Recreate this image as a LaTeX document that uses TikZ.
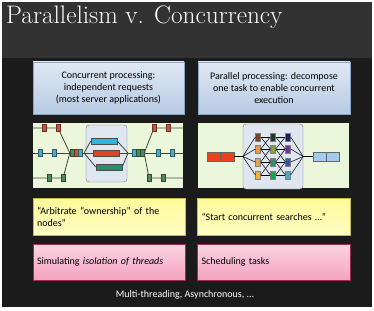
\documentclass[tikz,border=0pt]{standalone}
\usepackage{fontspec}
\setsansfont{Carlito}
\usetikzlibrary{positioning}

\definecolor{slidetop}{HTML}{323232}
\definecolor{slidebody}{HTML}{1B1B1B}
\definecolor{bluetop}{HTML}{DFE8F4}
\definecolor{bluebot}{HTML}{B7CBE4}
\definecolor{blueline}{HTML}{8DA6C8}
\definecolor{stripgreen}{HTML}{EBF6DB}
\definecolor{hubfill}{HTML}{DFE6F0}
\definecolor{yellowtop}{HTML}{FDF99A}
\definecolor{yellowbot}{HTML}{FFFDC2}
\definecolor{yellowline}{HTML}{C8B850}
\definecolor{pinktop}{HTML}{FAD3E0}
\definecolor{pinkbot}{HTML}{F5A3C0}
\definecolor{pinkline}{HTML}{9E2E50}
\definecolor{trackline}{HTML}{3E4A36}
\definecolor{jred}{HTML}{C9553F}
\definecolor{jblue}{HTML}{4BACC6}
\definecolor{jgreen}{HTML}{4F8A5F}
\definecolor{barcyan}{HTML}{2FB5E0}
\definecolor{barred}{HTML}{E0412A}
\definecolor{bargreen}{HTML}{2E8A6A}
\definecolor{cellred}{HTML}{E8431E}
\definecolor{cellblue}{HTML}{A3CBEC}
\definecolor{task11}{HTML}{7F4222}
\definecolor{task12}{HTML}{F29A3C}
\definecolor{task13}{HTML}{E3A652}
\definecolor{task14}{HTML}{F2B134}
\definecolor{task21}{HTML}{1F3A22}
\definecolor{task22}{HTML}{84A23C}
\definecolor{task23}{HTML}{3A8A72}
\definecolor{task24}{HTML}{12A94E}
\definecolor{task31}{HTML}{1F1F66}
\definecolor{task32}{HTML}{7030A0}
\definecolor{task33}{HTML}{3354A8}
\definecolor{task34}{HTML}{45AAC4}

\begin{document}
\begin{tikzpicture}[x=1pt, y=-1pt,
    txt/.style={font=\sffamily\fontsize{10}{12}\selectfont},
    bluebox/.style={txt, draw=blueline, top color=bluetop, bottom color=bluebot, minimum width=151pt, minimum height=52pt, align=center, inner sep=0pt},
    greenbox/.style={fill=stripgreen, minimum width=150pt, minimum height=65pt, inner sep=0pt},
    hub/.style={draw=black!55, fill=hubfill, rounded corners=3pt, inner sep=0pt},
    notebox/.style={txt, text width=144pt, inner xsep=4pt, inner ysep=0pt, align=left},
    yellowbox/.style={notebox, draw=yellowline, top color=yellowtop, bottom color=yellowbot, minimum height=37pt},
    pinkbox/.style={notebox, draw=pinkline, top color=pinktop, bottom color=pinkbot, minimum height=36pt},
    job/.style={draw=#1!55!black, fill=#1, minimum width=4pt, minimum height=7pt, inner sep=0pt},
    bar/.style={draw=black!70, fill=#1, minimum width=26pt, minimum height=6pt, inner sep=0pt},
    cell/.style={draw=black!60, fill=#1, minimum width=13pt, minimum height=9pt, inner sep=0pt},
    task/.style={draw=black!50, fill=#1, minimum width=5pt, minimum height=8pt, inner sep=0pt},
    track/.style={draw=trackline, line width=0.8pt},
    mesh/.style={draw=black, line width=0.5pt}
]
% slide background
\fill[white] (0,0) rectangle (374,310);
\fill[slidebody] (2,2) rectangle (372,307);
\fill[slidetop] (2,2) rectangle (372,58);
\node[anchor=base west, inner sep=0pt, text=white, font=\fontsize{25.3}{26}\selectfont] (title) at (6,24) {Parallelism v. Concurrency};

% headings
\node[bluebox] (conc) at (108.5,88) {Concurrent processing:\\independent requests\\(most server applications)};
\node[bluebox, minimum width=152pt] (para) at (274,88) {Parallel processing: decompose\\one task to enable concurrent\\execution};

% left strip: requests
\node[greenbox] (strip1) at (108,155.5) {};
\node[hub, minimum width=41pt, minimum height=57pt] (hub1) at (106.5,153.5) {};
\node[bar=barcyan] (b1) at (104,141) {};
\node[bar=barred] (b2) at (106.5,153) {};
\node[bar=bargreen] (b3) at (109,167) {};
\node[job=jred] (a1) at (44,128) {};
\node[job=jred] (a2) at (58,128) {};
\node[job=jblue] (a3) at (40,153) {};
\node[job=jblue] (a4) at (54,153) {};
\node[job=jgreen] (a5) at (49,178) {};
\node[job=jgreen] (a6) at (63,178) {};
\node[job=jgreen] (c1) at (72,153) {};
\node[job=jred] (c2) at (76,153) {};
\node[job=jblue] (c3) at (80,153) {};
\node[job=jblue] (d1) at (134,153) {};
\node[job=jgreen] (d2) at (138,153) {};
\node[job=jgreen] (d3) at (142,153) {};
\node[job=jred] (e1) at (154,128) {};
\node[job=jred] (e2) at (168,128) {};
\node[job=jblue] (e3) at (158,153) {};
\node[job=jblue] (e4) at (172,153) {};
\node[job=jgreen] (e5) at (149,178) {};
\node[job=jgreen] (e6) at (163,178) {};
\coordinate (j1) at (84,153);
\coordinate (j2) at (128,153);

\draw[track] (strip1.west |- a1) -- (a1) -- (a2) -- (c1.west);
\draw[track] (strip1.west |- a3) -- (a3) -- (a4) -- (c1);
\draw[track] (strip1.west |- a5) -- (a5) -- (a6) -- (c1.west);
\draw[track] (c3) -- (j1);
\foreach \b in {b1,b2,b3} {
  \draw[track] (j1) -- (\b.west);
  \draw[track] (\b.east) -- (j2);
}
\draw[track] (j2) -- (d1);
\draw[track] (d3) -- (e3) -- (e4) -- (strip1.east |- e4);
\draw[track] (d3.east) -- (e1) -- (e2) -- (strip1.east |- e2);
\draw[track] (d3.east) -- (e5) -- (e6) -- (strip1.east |- e6);

% right strip: one task split up
\node[greenbox, minimum width=151pt] (strip2) at (273.5,155.5) {};
\node[hub, minimum width=60pt, minimum height=65pt] (hub2) at (273,156.5) {};
\node[cell=cellred] (in1) at (214,156.5) {};
\node[cell=cellred, right=0pt of in1] (in2) {};
\node[cell=cellblue] (out1) at (319.5,156.5) {};
\node[cell=cellblue, right=0pt of out1] (out2) {};
\foreach \col/\x in {1/258,2/273,3/288}
  \foreach \row/\y in {1/137,2/149,3/162,4/175}
    \node[task=task\col\row] (t\col\row) at (\x,\y) {};

\draw[mesh] (in2) -- (hub2.west);
\draw[mesh] (hub2.east) -- (out1);
\foreach \row in {1,...,4} {
  \draw[mesh] (hub2.west) -- (t1\row.west);
  \draw[mesh] (t3\row.east) -- (hub2.east);
}
\foreach \a/\b in {1/1,1/2,2/1,2/2,2/3,3/2,3/3,3/4,4/3,4/4} {
  \draw[mesh] (t1\a.east) -- (t2\b.west);
  \draw[mesh] (t2\a.east) -- (t3\b.west);
}

% notes
\node[yellowbox] (arb) at (109,216.5) {“Arbitrate “ownership” of the\\nodes”};
\node[yellowbox, text width=145pt] (srch) at (274,216.5) {“Start concurrent searches …”};
\node[pinkbox] (iso) at (109,262) {Simulating \textit{isolation of threads}};
\node[pinkbox, text width=145pt] (sched) at (274,262) {Scheduling tasks};

\node[txt, text=white] (foot) at (185,295) {Multi-threading, Asynchronous, ...};
\end{tikzpicture}
\end{document}
